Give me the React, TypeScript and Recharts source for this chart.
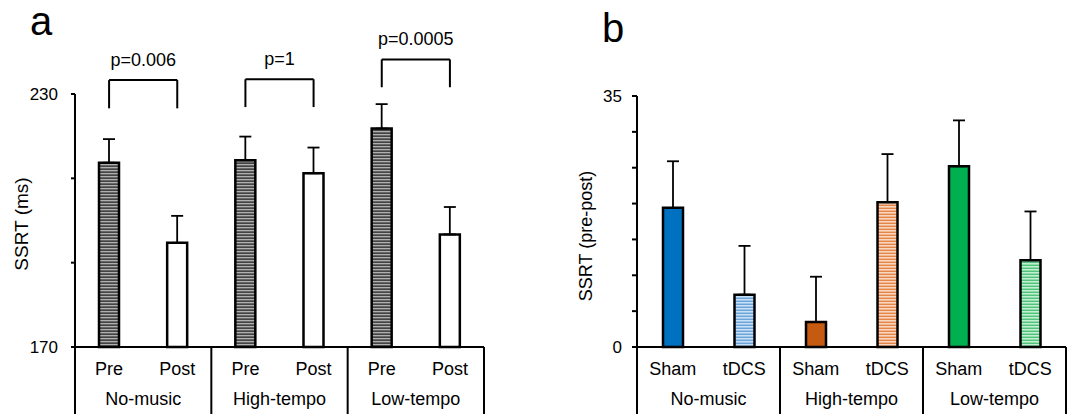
import React from 'react';
import {
  BarChart,
  Bar,
  XAxis,
  YAxis,
  ErrorBar,
  Cell,
  ReferenceLine,
} from 'recharts';

const FONT = '"Liberation Sans", Arial, sans-serif';

// shared group names
const groups = ['No-music', 'High-tempo', 'Low-tempo'];

// panel a
const phasesA = ['Pre', 'Post', 'Pre', 'Post', 'Pre', 'Post'];
const ssrtA = [213.7, 194.7, 214.3, 211.2, 221.8, 196.7];
const semA = [5.6, 6.4, 5.6, 6.1, 5.8, 6.5];
const pLabels = ['p=0.006', 'p=1', 'p=0.0005'];
const bracketTop = [233.3, 233.5, 238.2];
const bracketFoot = [226.6, 226.9, 231.6];
const ticksA = [170, 190, 210, 230];

// panel b
const armsB = ['Sham', 'tDCS', 'Sham', 'tDCS', 'Sham', 'tDCS'];
const diffB = [19.4, 7.3, 3.5, 20.2, 25.2, 12.1];
const semB = [6.5, 6.8, 6.3, 6.7, 6.4, 6.8];
const ticksB = [0, 5, 10, 15, 20, 25, 30, 35];
const fillsB = ['#0070c0', 'url(#stripeBlue)', '#c55a11', 'url(#stripeOrange)', '#00b050', 'url(#stripeGreen)'];

const dataA = phasesA.map((p, i) => ({
  key: `${groups[Math.floor(i / 2)]} ${p}`,
  value: ssrtA[i],
  err: [0, semA[i]],
}));

const dataB = armsB.map((a, i) => ({
  key: `${groups[Math.floor(i / 2)]} ${a}`,
  value: diffB[i],
  err: [0, semB[i]],
}));

function makeTick(labels: string[], plotWidth: number) {
  return (props: any) => {
    const { x, y, index, payload } = props;
    const half = payload && payload.offset ? payload.offset : plotWidth / labels.length / 2;
    const g = Math.floor(index / 2);
    return (
      <g>
        <text x={x} y={y + 28} textAnchor="middle" fontSize={18} fontFamily={FONT} fill="#000">
          {labels[index]}
        </text>
        {index % 2 === 0 && (
          <>
            <line x1={x - half} x2={x - half} y1={y} y2={y + 70} stroke="#000" strokeWidth={2} />
            <text x={x + half} y={y + 58} textAnchor="middle" fontSize={18} fontFamily={FONT} fill="#000">
              {groups[g]}
            </text>
          </>
        )}
        {index === labels.length - 1 && (
          <line x1={x + half} x2={x + half} y1={y} y2={y + 70} stroke="#000" strokeWidth={2} />
        )}
      </g>
    );
  };
}

function Stripe({ id, base, line, light }: { id: string; base: string; line: string; light: string }) {
  return (
    <pattern id={id} width="6" height="3" patternUnits="userSpaceOnUse">
      <rect width="6" height="3" fill={base} />
      <rect y="1" width="6" height="1" fill={line} />
      <rect y="2" width="6" height="1" fill={light} />
    </pattern>
  );
}

export default function App() {
  return (
    <div style={{ position: 'absolute', left: 0, top: 0, width: 1072, height: 414, background: '#fff', fontFamily: FONT }}>
      <svg width={1072} height={414} style={{ position: 'absolute', left: 0, top: 0 }}>
        <text x={30} y={35} fontSize={40} fontFamily={FONT}>a</text>
        <text x={602} y={42} fontSize={40} fontFamily={FONT}>b</text>
        <text transform="translate(28,224) rotate(-90)" textAnchor="middle" fontSize={19} fontFamily={FONT}>
          SSRT (ms)
        </text>
        <text transform="translate(592,236) rotate(-90)" textAnchor="middle" fontSize={18} fontFamily={FONT}>
          SSRT (pre-post)
        </text>
      </svg>

      <div style={{ position: 'absolute', left: 0, top: 0 }}>
        <BarChart width={500} height={414} data={dataA} margin={{ top: 94, right: 16, bottom: 0, left: 0 }}>
          <defs>
            <Stripe id="stripeGray" base="#666666" line="#444444" light="#b0b0b0" />
          </defs>
          <XAxis
            dataKey="key"
            height={67}
            interval={0}
            tickSize={0}
            tickMargin={0}
            tickLine={false}
            axisLine={{ stroke: '#000', strokeWidth: 2 }}
            tick={makeTick(phasesA, 409)}
          />
          <YAxis
            width={75}
            domain={[170, 230]}
            ticks={ticksA}
            tickSize={4}
            tickMargin={13}
            tickFormatter={(v: number) => (v === 170 || v === 230 ? String(v) : '')}
            tick={{ fill: '#000', fontSize: 17, fontFamily: FONT }}
            axisLine={{ stroke: '#000', strokeWidth: 2 }}
            tickLine={{ stroke: '#000', strokeWidth: 2 }}
          />
          <Bar dataKey="value" barSize={20} stroke="#000" strokeWidth={2.5} isAnimationActive={false}>
            {dataA.map((d, i) => (
              <Cell key={d.key} fill={i % 2 === 0 ? 'url(#stripeGray)' : '#fff'} />
            ))}
            <ErrorBar dataKey="err" direction="y" width={6} stroke="#000" strokeWidth={1.8} />
          </Bar>
          {pLabels.map((p, g) => {
            const left = dataA[g * 2].key;
            const right = dataA[g * 2 + 1].key;
            return (
              <React.Fragment key={p}>
                <ReferenceLine
                  segment={[{ x: left, y: bracketTop[g] }, { x: right, y: bracketTop[g] }]}
                  stroke="#000"
                  strokeWidth={2}
                  ifOverflow="visible"
                  label={{ value: p, position: 'top', offset: 14, fontSize: 18, fill: '#000', fontFamily: FONT }}
                />
                <ReferenceLine
                  segment={[{ x: left, y: bracketFoot[g] }, { x: left, y: bracketTop[g] }]}
                  stroke="#000"
                  strokeWidth={2}
                  ifOverflow="visible"
                />
                <ReferenceLine
                  segment={[{ x: right, y: bracketFoot[g] }, { x: right, y: bracketTop[g] }]}
                  stroke="#000"
                  strokeWidth={2}
                  ifOverflow="visible"
                />
              </React.Fragment>
            );
          })}
        </BarChart>
      </div>

      <div style={{ position: 'absolute', left: 580, top: 0 }}>
        <BarChart width={492} height={414} data={dataB} margin={{ top: 96, right: 6, bottom: 0, left: 0 }}>
          <defs>
            <Stripe id="stripeBlue" base="#9cc5ea" line="#6fa3d8" light="#c8e0f5" />
            <Stripe id="stripeOrange" base="#f2b68e" line="#e38449" light="#f8d6bf" />
            <Stripe id="stripeGreen" base="#8fdcab" line="#4fc27c" light="#c2eed2" />
          </defs>
          <XAxis
            dataKey="key"
            height={67}
            interval={0}
            tickSize={0}
            tickMargin={0}
            tickLine={false}
            axisLine={{ stroke: '#000', strokeWidth: 2 }}
            tick={makeTick(armsB, 429)}
          />
          <YAxis
            width={57}
            domain={[0, 35]}
            ticks={ticksB}
            tickSize={5}
            tickMargin={10}
            tickFormatter={(v: number) => (v === 0 || v === 35 ? String(v) : '')}
            tick={{ fill: '#000', fontSize: 17, fontFamily: FONT }}
            axisLine={{ stroke: '#000', strokeWidth: 2 }}
            tickLine={{ stroke: '#000', strokeWidth: 2 }}
          />
          <Bar dataKey="value" barSize={20} stroke="#000" strokeWidth={2.5} isAnimationActive={false}>
            {dataB.map((d, i) => (
              <Cell key={d.key} fill={fillsB[i]} />
            ))}
            <ErrorBar dataKey="err" direction="y" width={6} stroke="#000" strokeWidth={1.8} />
          </Bar>
        </BarChart>
      </div>
    </div>
  );
}
